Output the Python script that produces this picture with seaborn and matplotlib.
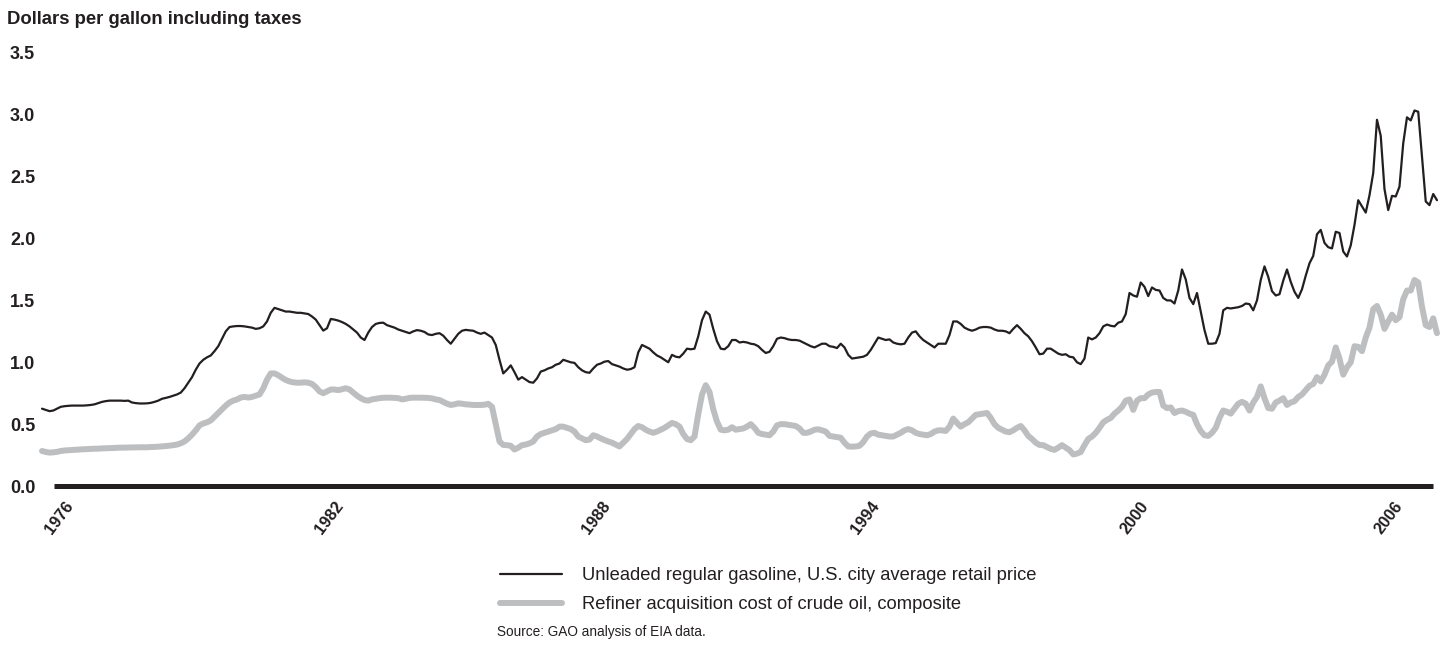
import numpy as np
import pandas as pd
import matplotlib
matplotlib.use("Agg")
import matplotlib.pyplot as plt
import seaborn as sns

# Monthly values, Jan 1976 - Jan 2007, dollars per gallon
gasoline = [
    0.625, 0.615, 0.605, 0.61, 0.625, 0.64, 0.645, 0.648, 0.65, 0.65, 0.65, 0.65,      # 1976
    0.652, 0.655, 0.66, 0.67, 0.68, 0.686, 0.69, 0.69, 0.69, 0.69, 0.688, 0.69,        # 1977
    0.675, 0.67, 0.667, 0.667, 0.668, 0.672, 0.68, 0.69, 0.705, 0.712, 0.72, 0.73,     # 1978
    0.74, 0.755, 0.79, 0.835, 0.88, 0.94, 0.99, 1.02, 1.04, 1.055, 1.09, 1.13,         # 1979
    1.19, 1.25, 1.285, 1.29, 1.293, 1.293, 1.29, 1.285, 1.28, 1.27, 1.275, 1.29,       # 1980
    1.33, 1.40, 1.44, 1.43, 1.42, 1.41, 1.41, 1.405, 1.40, 1.40, 1.395, 1.39,          # 1981
    1.37, 1.345, 1.30, 1.256, 1.275, 1.35, 1.345, 1.337, 1.325, 1.31, 1.29, 1.265,     # 1982
    1.24, 1.20, 1.18, 1.24, 1.285, 1.31, 1.318, 1.32, 1.30, 1.29, 1.28, 1.265,         # 1983
    1.255, 1.245, 1.235, 1.25, 1.26, 1.255, 1.245, 1.225, 1.22, 1.23, 1.235, 1.215,    # 1984
    1.18, 1.15, 1.19, 1.23, 1.255, 1.262, 1.258, 1.255, 1.24, 1.23, 1.24, 1.22,        # 1985
    1.20, 1.14, 1.02, 0.91, 0.94, 0.975, 0.92, 0.86, 0.88, 0.86, 0.84, 0.835,          # 1986
    0.87, 0.925, 0.935, 0.95, 0.96, 0.98, 0.99, 1.02, 1.01, 1.00, 0.995, 0.96,         # 1987
    0.935, 0.92, 0.915, 0.95, 0.98, 0.99, 1.005, 1.01, 0.985, 0.975, 0.965, 0.95,      # 1988
    0.94, 0.945, 0.96, 1.08, 1.14, 1.125, 1.11, 1.08, 1.055, 1.04, 1.02, 1.00,         # 1989
    1.06, 1.045, 1.04, 1.07, 1.11, 1.105, 1.11, 1.21, 1.34, 1.41, 1.385, 1.27,         # 1990
    1.17, 1.11, 1.105, 1.13, 1.18, 1.18, 1.16, 1.165, 1.16, 1.15, 1.145, 1.13,         # 1991
    1.10, 1.075, 1.085, 1.13, 1.19, 1.20, 1.195, 1.185, 1.18, 1.18, 1.175, 1.16,       # 1992
    1.145, 1.13, 1.12, 1.135, 1.15, 1.15, 1.13, 1.125, 1.115, 1.15, 1.12, 1.06,        # 1993
    1.03, 1.035, 1.04, 1.045, 1.06, 1.10, 1.15, 1.20, 1.19, 1.18, 1.185, 1.16,         # 1994
    1.15, 1.145, 1.15, 1.20, 1.24, 1.25, 1.21, 1.18, 1.16, 1.14, 1.12, 1.15,           # 1995
    1.15, 1.15, 1.22, 1.33, 1.33, 1.31, 1.28, 1.265, 1.255, 1.265, 1.28, 1.285,        # 1996
    1.285, 1.28, 1.265, 1.255, 1.255, 1.25, 1.235, 1.27, 1.30, 1.27, 1.235, 1.21,      # 1997
    1.17, 1.12, 1.065, 1.07, 1.11, 1.11, 1.09, 1.07, 1.06, 1.065, 1.045, 1.04,         # 1998
    1.00, 0.985, 1.03, 1.20, 1.185, 1.20, 1.235, 1.29, 1.305, 1.295, 1.29, 1.32,       # 1999
    1.33, 1.39, 1.56, 1.54, 1.53, 1.645, 1.61, 1.535, 1.605, 1.585, 1.58, 1.52,        # 2000
    1.50, 1.50, 1.475, 1.58, 1.75, 1.67, 1.52, 1.47, 1.56, 1.41, 1.26, 1.15,           # 2001
    1.15, 1.155, 1.23, 1.42, 1.44, 1.435, 1.44, 1.445, 1.455, 1.475, 1.47, 1.42,       # 2002
    1.50, 1.665, 1.775, 1.69, 1.575, 1.54, 1.55, 1.66, 1.75, 1.65, 1.57, 1.52,         # 2003
    1.59, 1.70, 1.80, 1.86, 2.035, 2.07, 1.965, 1.93, 1.92, 2.055, 2.045, 1.895,       # 2004
    1.855, 1.945, 2.11, 2.31, 2.26, 2.21, 2.35, 2.53, 2.96, 2.83, 2.40, 2.23,          # 2005
    2.345, 2.34, 2.42, 2.77, 2.98, 2.955, 3.035, 3.025, 2.66, 2.30, 2.27, 2.36,        # 2006
    2.31,                                                                              # 2007
]

crude = [
    0.283, 0.275, 0.27, 0.272, 0.276, 0.283, 0.287, 0.289, 0.291, 0.293, 0.295, 0.297,  # 1976
    0.298, 0.30, 0.301, 0.302, 0.304, 0.305, 0.306, 0.307, 0.309, 0.31, 0.31, 0.311,     # 1977
    0.312, 0.312, 0.313, 0.313, 0.313, 0.315, 0.316, 0.318, 0.32, 0.323, 0.326, 0.33,    # 1978
    0.335, 0.345, 0.36, 0.385, 0.415, 0.45, 0.49, 0.505, 0.515, 0.53, 0.56, 0.59,        # 1979
    0.62, 0.65, 0.675, 0.69, 0.70, 0.715, 0.72, 0.715, 0.72, 0.73, 0.74, 0.79,           # 1980
    0.86, 0.91, 0.91, 0.895, 0.875, 0.857, 0.845, 0.838, 0.835, 0.835, 0.838, 0.835,     # 1981
    0.825, 0.80, 0.765, 0.75, 0.765, 0.78, 0.78, 0.775, 0.782, 0.79, 0.78, 0.755,        # 1982
    0.73, 0.71, 0.695, 0.69, 0.70, 0.705, 0.71, 0.713, 0.714, 0.714, 0.712, 0.71,        # 1983
    0.70, 0.705, 0.712, 0.714, 0.714, 0.714, 0.713, 0.712, 0.708, 0.70, 0.695, 0.68,     # 1984
    0.665, 0.655, 0.66, 0.668, 0.665, 0.66, 0.658, 0.655, 0.655, 0.655, 0.657, 0.664,   # 1985
    0.64, 0.50, 0.36, 0.332, 0.33, 0.325, 0.295, 0.31, 0.33, 0.335, 0.345, 0.36,         # 1986
    0.40, 0.42, 0.43, 0.44, 0.45, 0.46, 0.48, 0.48, 0.47, 0.46, 0.44, 0.40,              # 1987
    0.385, 0.37, 0.375, 0.41, 0.40, 0.385, 0.372, 0.36, 0.35, 0.335, 0.32, 0.35,         # 1988
    0.38, 0.42, 0.46, 0.485, 0.475, 0.455, 0.44, 0.43, 0.44, 0.455, 0.47, 0.49,          # 1989
    0.51, 0.50, 0.48, 0.42, 0.38, 0.37, 0.40, 0.58, 0.74, 0.815, 0.76, 0.62,             # 1990
    0.52, 0.455, 0.45, 0.455, 0.475, 0.455, 0.46, 0.465, 0.48, 0.50, 0.47, 0.43,         # 1991
    0.42, 0.415, 0.41, 0.44, 0.49, 0.50, 0.50, 0.495, 0.49, 0.485, 0.465, 0.43,          # 1992
    0.43, 0.44, 0.455, 0.458, 0.45, 0.44, 0.405, 0.40, 0.395, 0.39, 0.35, 0.32,          # 1993
    0.318, 0.32, 0.325, 0.355, 0.40, 0.425, 0.43, 0.415, 0.41, 0.405, 0.40, 0.40,        # 1994
    0.415, 0.43, 0.45, 0.46, 0.45, 0.43, 0.42, 0.415, 0.41, 0.42, 0.44, 0.45,            # 1995
    0.45, 0.445, 0.48, 0.545, 0.51, 0.48, 0.50, 0.515, 0.545, 0.575, 0.58, 0.585,        # 1996
    0.59, 0.55, 0.50, 0.47, 0.455, 0.44, 0.435, 0.45, 0.47, 0.485, 0.45, 0.405,          # 1997
    0.38, 0.35, 0.332, 0.33, 0.315, 0.30, 0.292, 0.31, 0.33, 0.31, 0.29, 0.255,          # 1998
    0.262, 0.275, 0.33, 0.38, 0.40, 0.43, 0.47, 0.515, 0.535, 0.55, 0.585, 0.61,         # 1999
    0.64, 0.69, 0.70, 0.615, 0.69, 0.71, 0.71, 0.74, 0.755, 0.76, 0.76, 0.65,            # 2000
    0.63, 0.635, 0.59, 0.605, 0.61, 0.60, 0.585, 0.575, 0.50, 0.445, 0.41, 0.405,        # 2001
    0.43, 0.47, 0.55, 0.61, 0.60, 0.585, 0.625, 0.665, 0.68, 0.665, 0.61, 0.675,         # 2002
    0.72, 0.805, 0.71, 0.63, 0.625, 0.675, 0.69, 0.71, 0.655, 0.675, 0.685, 0.72,        # 2003
    0.74, 0.775, 0.81, 0.825, 0.88, 0.845, 0.90, 0.975, 1.005, 1.12, 1.03, 0.90,         # 2004
    0.96, 1.00, 1.13, 1.125, 1.09, 1.20, 1.28, 1.43, 1.455, 1.385, 1.27, 1.33,           # 2005
    1.385, 1.34, 1.365, 1.51, 1.58, 1.58, 1.665, 1.645, 1.45, 1.30, 1.285, 1.355,        # 2006
    1.235,                                                                               # 2007
]

start_year = 1976
year_labels = ["1976", "1982", "1988", "1994", "2000", "2006"]
y_ticks = [0.0, 0.5, 1.0, 1.5, 2.0, 2.5, 3.0, 3.5]
series_names = [
    "Unleaded regular gasoline, U.S. city average retail price",
    "Refiner acquisition cost of crude oil, composite",
]

# layout (figure is 1440 x 646 px at dpi 100)
W, H = 1440, 646
TEXT = "#231f20"
GRAY = "#bdbec0"
tick_pos = [1976.62, 1982.63, 1988.57, 1994.55, 2000.52, 2006.18]

months = start_year + np.arange(len(gasoline)) / 12
df = pd.DataFrame({"year": months, "gasoline": gasoline, "crude": crude})

sns.set_theme(style="white")
plt.rcParams["font.family"] = ["Liberation Sans", "DejaVu Sans"]
plt.rcParams["text.color"] = TEXT

fig = plt.figure(figsize=(W / 100, H / 100), dpi=100)
ax = fig.add_axes([30 / W, 156 / H, 1410 / W, 440 / H])

sns.lineplot(data=df, x="year", y="crude", color=GRAY, lw=4.3, ax=ax)
sns.lineplot(data=df, x="year", y="gasoline", color=TEXT, lw=1.6, ax=ax)

ax.set_xlim(1975.733, 2007.067)
ax.set_ylim(-0.0323, 3.524)
ax.set_xlabel("")
ax.set_ylabel("")

for side in ["top", "right", "left"]:
    ax.spines[side].set_visible(False)
bottom = ax.spines["bottom"]
bottom.set_position(("data", 0))
bottom.set_bounds(1976.267, 2006.911)
bottom.set_linewidth(3.6)
bottom.set_color(TEXT)
bottom.set_capstyle("butt")

ax.set_xticks(tick_pos, year_labels)
ax.tick_params(axis="x", length=0, pad=12.5, labelsize=11.8, labelcolor=TEXT)
for lbl in ax.get_xticklabels():
    lbl.set_rotation(53)
    lbl.set_ha("right")
    lbl.set_va("center")
    lbl.set_rotation_mode("anchor")
    lbl.set_fontweight("bold")

ax.set_yticks(y_ticks, [f"{v:.1f}" for v in y_ticks])
ax.tick_params(axis="y", length=0, pad=14.4, labelsize=13, labelcolor=TEXT)
for lbl in ax.get_yticklabels():
    lbl.set_ha("left")
    lbl.set_fontweight("bold")

fig.text(7 / W, 1 - 20 / H, "Dollars per gallon including taxes",
         fontsize=13.3, fontweight="bold", va="center", ha="left")

ax.legend(handles=[ax.lines[1], ax.lines[0]], labels=series_names,
          loc="upper left", bbox_to_anchor=(500 / W, 1 - 567 / H),
          bbox_transform=fig.transFigure, frameon=False, fontsize=13.2,
          handlelength=3.4, handletextpad=1.1, labelspacing=0.68,
          borderpad=0, borderaxespad=0)

fig.text(497 / W, 1 - 632 / H, "Source: GAO analysis of EIA data.",
         fontsize=9.8, va="center", ha="left")

fig.savefig("out.png", dpi=100)
